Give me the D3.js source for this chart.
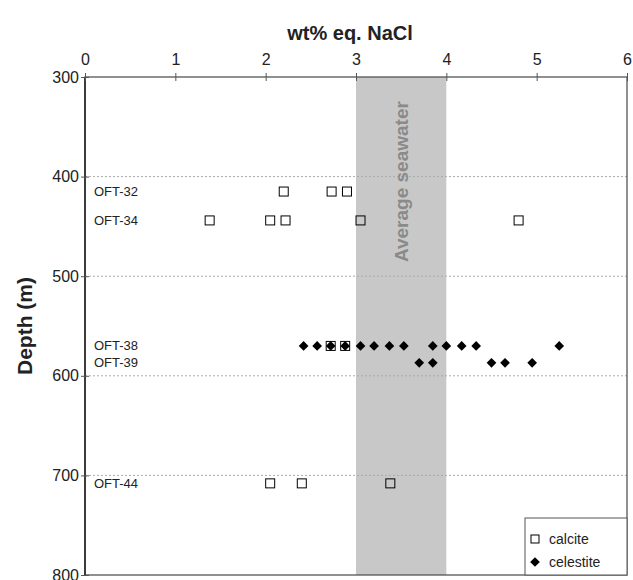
<!DOCTYPE html>
<html><head><meta charset="utf-8">
<script src="https://cdn.jsdelivr.net/npm/d3@7"></script>
<style>body{margin:0;background:#fff}svg{display:block}text{font-family:"Liberation Sans",Arial,sans-serif}</style>
</head><body>
<script>
const xTicks = [0,1,2,3,4,5,6];
const yTicks = [300,400,500,600,700,800];
const sampleLabels = ["OFT-32","OFT-34","OFT-38","OFT-39","OFT-44"];
const sampleDepths = [415,444,570,587,708];
const calciteX = [2.2,2.73,2.9, 1.38,2.05,2.22,3.05,4.8, 2.72,2.88, 2.05,2.4,3.38];
const calciteDepth = [415,415,415, 444,444,444,444,444, 570,570, 708,708,708];
const celestiteX = [2.42,2.57,2.72,2.88,3.05,3.2,3.37,3.53,3.85,4.0,4.17,4.33,5.25, 3.7,3.85,4.5,4.65,4.95];
const celestiteDepth = [570,570,570,570,570,570,570,570,570,570,570,570,570, 587,587,587,587,587];
const seawater = [3,4];

const W=633,H=580;
const m={l:85,r:627,t:77,b:575};
const svg=d3.select("body").append("svg").attr("width",W).attr("height",H);
const x=d3.scaleLinear().domain([0,6]).range([m.l,m.r]);
const y=d3.scaleLinear().domain([300,800]).range([m.t,m.b]);

// seawater band
svg.append("rect").attr("x",x(seawater[0])).attr("y",m.t).attr("width",x(seawater[1])-x(seawater[0])).attr("height",m.b-m.t).attr("fill","#c8c8c8");

// gridlines
svg.append("g").selectAll("line").data(yTicks.slice(1,-1)).join("line")
  .attr("x1",m.l).attr("x2",m.r).attr("y1",d=>y(d)).attr("y2",d=>y(d))
  .attr("stroke","#aaa").attr("stroke-width",1).attr("stroke-dasharray","2,2");

// seawater label
svg.append("text").attr("transform",`translate(${x(3.5)+7},${y(405)}) rotate(-90)`)
  .attr("text-anchor","middle").attr("font-size",19).attr("font-weight","bold").attr("fill","#8a8a8a").text("Average seawater");

// frame
svg.append("rect").attr("x",m.l).attr("y",m.t).attr("width",m.r-m.l).attr("height",m.b-m.t).attr("fill","none").attr("stroke","#555").attr("stroke-width",1.3);
svg.append("line").attr("x1",m.l).attr("x2",m.l).attr("y1",m.t).attr("y2",m.b).attr("stroke","#333").attr("stroke-width",1.8);

// axes
const xa=svg.append("g").attr("transform",`translate(0,${m.t})`).call(d3.axisTop(x).tickValues(xTicks).tickSize(4).tickFormat(d3.format("d")));
xa.select(".domain").remove();
xa.selectAll("line").attr("stroke","#555").attr("y2",4).attr("y1",-4);
xa.selectAll("text").attr("font-size",16).attr("fill","#222").attr("y",-12).style("font-family","Liberation Sans, Arial");
const ya=svg.append("g").attr("transform",`translate(${m.l},0)`).call(d3.axisLeft(y).tickValues(yTicks).tickSize(4));
ya.select(".domain").remove();
ya.selectAll("line").attr("stroke","#555").attr("x1",4).attr("x2",-4);
ya.selectAll("text").attr("font-size",16).attr("fill","#222").attr("x",-6).style("font-family","Liberation Sans, Arial");

// titles
svg.append("text").attr("x",350).attr("y",40).attr("text-anchor","middle").attr("font-size",20).attr("font-weight","bold").attr("fill","#222").text("wt% eq. NaCl");
svg.append("text").attr("transform",`translate(32,${(m.t+m.b)/2}) rotate(-90)`).attr("text-anchor","middle").attr("font-size",21).attr("font-weight","bold").attr("fill","#222").text("Depth (m)");

// sample labels
svg.append("g").selectAll("text").data(sampleLabels).join("text")
  .attr("x",m.l+9).attr("y",(d,i)=>y(sampleDepths[i])+4.5).attr("font-size",13).attr("fill","#222").text(d=>d);

// points
const cel=celestiteX.map((v,i)=>({x:v,d:celestiteDepth[i]}));
const cal=calciteX.map((v,i)=>({x:v,d:calciteDepth[i]}));
const diamond=d3.symbol().type(d3.symbolDiamond2).size(60);
svg.append("g").selectAll("path").data(cel).join("path")
  .attr("transform",d=>`translate(${x(d.x)},${y(d.d)})`).attr("d",diamond).attr("fill","#000");
svg.append("g").selectAll("rect").data(cal).join("rect")
  .attr("x",d=>x(d.x)-4.5).attr("y",d=>y(d.d)-4.5).attr("width",9).attr("height",9)
  .attr("fill","none").attr("stroke","#000").attr("stroke-width",1);

// legend
const lg=svg.append("g").attr("transform",`translate(525,518)`);
lg.append("rect").attr("width",m.r-525).attr("height",m.b-518).attr("fill","#fff").attr("stroke","#555").attr("stroke-width",1);
lg.append("rect").attr("x",6).attr("y",17).attr("width",8).attr("height",8).attr("fill","none").attr("stroke","#000");
lg.append("text").attr("x",24).attr("y",26).attr("font-size",14).attr("fill","#222").text("calcite");
lg.append("path").attr("transform","translate(10,44)").attr("d",diamond).attr("fill","#000");
lg.append("text").attr("x",24).attr("y",49).attr("font-size",14).attr("fill","#222").text("celestite");
</script>
</body></html>
